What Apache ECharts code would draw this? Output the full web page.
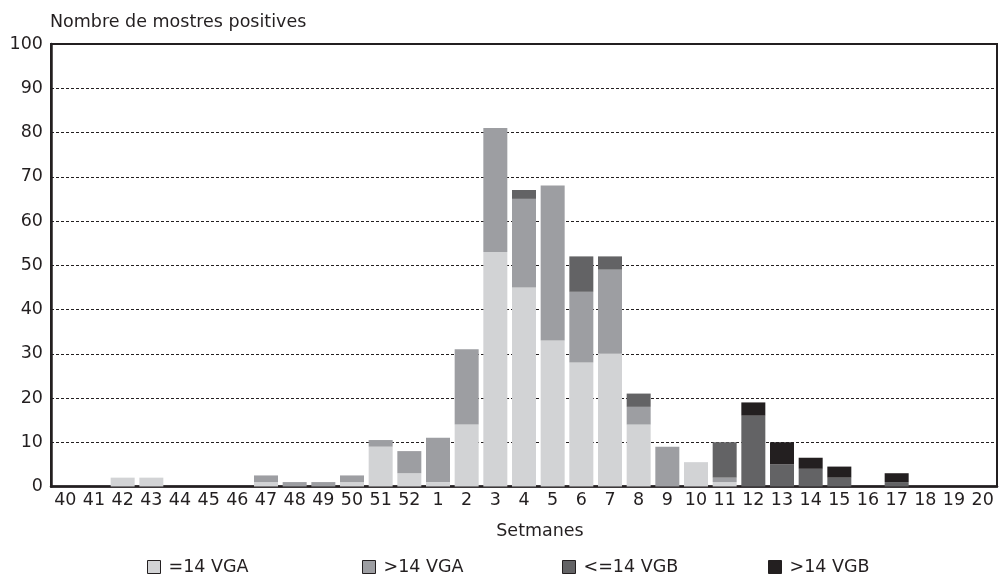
<!DOCTYPE html>
<html>
<head>
<meta charset="utf-8">
<script src="https://cdn.jsdelivr.net/npm/echarts@6/dist/echarts.min.js"></script>
<style>
html,body{margin:0;padding:0;background:#fff;}
#chart{width:999px;height:577px;}
</style>
</head>
<body>
<div id="chart"></div>
<script>
var weeks = ['40','41','42','43','44','45','46','47','48','49','50','51','52','1','2','3','4','5','6','7','8','9','10','11','12','13','14','15','16','17','18','19','20'];
// =14 VGA
var vgaLow  = [0,0,2,2,0,0,0,1,0,0,1,9,3,1,14,53,45,33,28,30,14,0,5.5,1,0,0,0,0,0,0,0,0,0];
// >14 VGA
var vgaHigh = [0,0,0,0,0,0,0,1.5,1,1,1.5,1.5,5,10,17,28,20,35,16,19,4,9,0,1,0,0,0,0,0,0,0,0,0];
// <=14 VGB
var vgbLow  = [0,0,0,0,0,0,0,0,0,0,0,0,0,0,0,0,2,0,8,3,3,0,0,8,16,5,4,2,0,1,0,0,0];
// >14 VGB
var vgbHigh = [0,0,0,0,0,0,0,0,0,0,0,0,0,0,0,0,0,0,0,0,0,0,0,0,3,5,2.5,2.5,0,2,0,0,0];
var yTicks = [0,10,20,30,40,50,60,70,80,90,100];
var seriesNames = ['=14 VGA','>14 VGA','<=14 VGB','>14 VGB'];
var colors = ['#d2d3d5','#9d9ea2','#636365','#231f20'];

var ink = '#231f20';
var font = 'DejaVu Sans, sans-serif';
var fs = 17.5;
function z(a){return a.map(function(v){return v===0?null:v;});}
var data = [vgaLow, vgaHigh, vgbLow, vgbHigh];
var legendLeft = [147, 362, 562, 768];

var chart = echarts.init(document.getElementById('chart'));
chart.setOption({
  animation:false,
  color: colors,
  textStyle:{fontFamily:font, color:ink},
  title:{text:'Nombre de mostres positives', left:50, top:13, padding:0,
    textStyle:{fontSize:fs, fontWeight:'normal', color:ink, fontFamily:font}},
  grid:{left:51, right:2, top:44, bottom:90.5, show:true, borderColor:ink, borderWidth:2, containLabel:false},
  legend: seriesNames.map(function(n,i){
    return {data:[n], left:legendLeft[i], top:558, itemWidth:13, itemHeight:13, itemGap:6, padding:0,
      icon:'rect',
      itemStyle:{borderColor:ink, borderWidth:1},
      textStyle:{fontSize:fs, color:ink, fontFamily:font, padding:[0,0,0,3]}};
  }),
  xAxis:{type:'category', data:weeks,
    name:'Setmanes', nameLocation:'middle', nameGap:36,
    nameTextStyle:{fontSize:fs, color:ink, fontFamily:font, padding:[0,0,0,32]},
    axisLine:{lineStyle:{color:ink, width:2.5}},
    axisTick:{inside:true, length:7, lineStyle:{color:ink, width:1}},
    axisLabel:{fontSize:fs, color:ink, margin:5, interval:0, fontFamily:font}},
  yAxis:{type:'value', min:0, max:100, interval:10,
    axisLine:{show:true, lineStyle:{color:ink, width:2.5}},
    axisTick:{show:false},
    axisLabel:{fontSize:fs, color:ink, margin:8, fontFamily:font,
      formatter:function(v){return yTicks.indexOf(v)>=0?String(v):'';}},
    splitLine:{lineStyle:{color:ink, width:1, type:[3,2]}}},
  series: seriesNames.map(function(n,i){
    return {name:n, type:'bar', stack:'s', barWidth:24, data:z(data[i]),
      itemStyle:{color:colors[i]}};
  })
});
</script>
</body>
</html>
